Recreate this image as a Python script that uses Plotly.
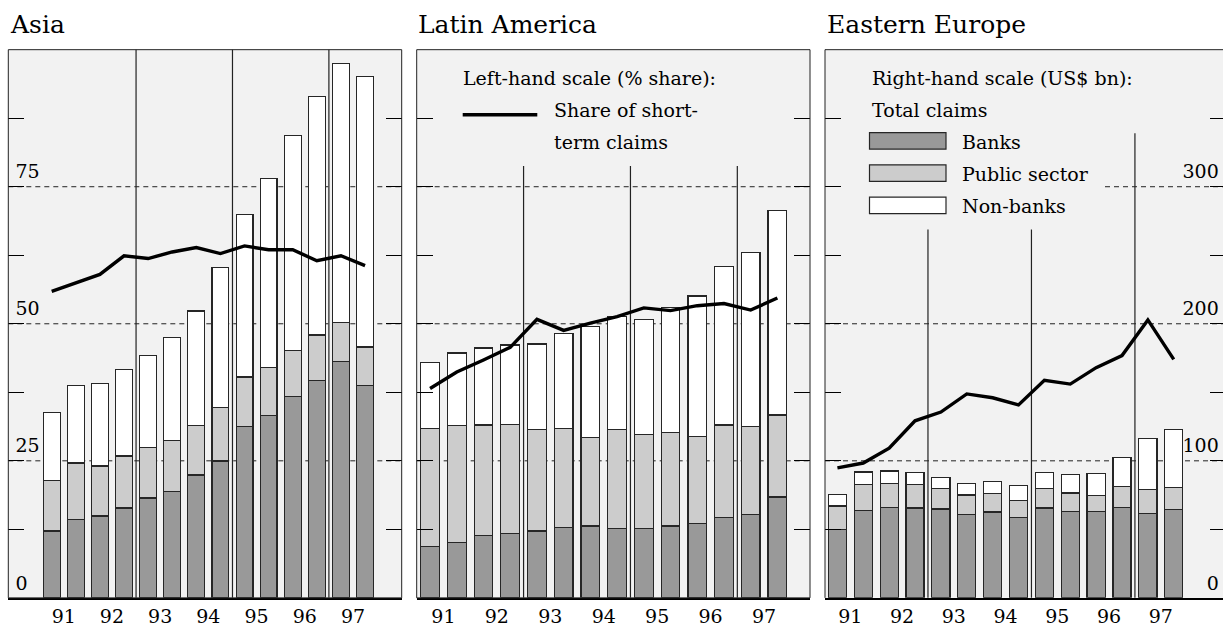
import plotly.graph_objects as go

# ---------------- data ----------------
periods = ["Jun 91", "Dec 91", "Jun 92", "Dec 92", "Jun 93", "Dec 93", "Jun 94",
           "Dec 94", "Jun 95", "Dec 95", "Jun 96", "Dec 96", "Jun 97", "Dec 97"]
year_labels = ["91", "92", "93", "94", "95", "96", "97"]
panel_titles = ["Asia", "Latin America", "Eastern Europe"]
series_names = ["Banks", "Public sector", "Non-banks"]

# US$ bn (right-hand scale)
asia_banks = [48.8, 57.4, 59.8, 65.6, 72.9, 77.7, 89.7, 99.9, 125.0, 133.1, 147.2, 158.8, 172.2, 155.1]
asia_public = [36.6, 41.0, 36.4, 37.9, 36.6, 37.4, 36.0, 38.8, 36.1, 35.1, 33.3, 33.0, 29.0, 28.0]
asia_nonbanks = [49.7, 56.7, 60.1, 63.2, 67.3, 75.0, 83.6, 102.3, 118.7, 137.9, 156.7, 174.3, 188.8, 197.3]
# % share (left-hand scale)
asia_share = [55.9, 57.5, 59.0, 62.4, 61.9, 63.1, 63.9, 62.8, 64.2, 63.5, 63.5, 61.5, 62.4, 60.6]

latam_banks = [37.4, 40.3, 45.4, 47.0, 48.8, 51.2, 52.4, 50.9, 50.4, 52.4, 54.1, 58.9, 61.1, 73.6]
latam_public = [85.9, 85.6, 80.8, 79.4, 73.8, 72.1, 64.8, 72.1, 69.0, 68.2, 63.8, 67.3, 63.8, 59.8]
latam_nonbanks = [48.5, 52.8, 56.1, 58.1, 62.6, 69.5, 80.6, 82.1, 83.7, 91.0, 102.4, 115.8, 126.9, 149.1]
latam_share = [38.2, 41.2, 43.4, 45.7, 50.8, 48.8, 50.1, 51.3, 52.9, 52.4, 53.3, 53.7, 52.5, 54.7]

ee_banks = [49.9, 63.7, 65.8, 65.6, 64.9, 61.1, 62.7, 58.4, 65.6, 63.2, 63.2, 65.8, 61.5, 64.7]
ee_public = [17.2, 19.1, 17.7, 16.9, 14.7, 13.9, 13.3, 12.8, 14.3, 13.3, 11.3, 15.7, 17.7, 15.6]
ee_nonbanks = [8.2, 9.1, 9.1, 8.7, 8.5, 8.2, 8.9, 10.9, 11.5, 13.7, 16.2, 20.8, 36.9, 42.3]
ee_share = [23.7, 24.6, 27.3, 32.3, 33.9, 37.2, 36.5, 35.2, 39.7, 39.0, 42.0, 44.2, 50.7, 43.5]

left_ticks = [0, 25, 50, 75]
left_minor = [12.5, 37.5, 62.5, 87.5]
right_ticks = [0, 100, 200, 300]
right_minor = [50, 150, 250, 350]

# ---------------- style / layout ----------------
# the Eastern Europe panel runs slightly past the right edge of the 1223 px view
W, H = 1226, 627
FONT = "DejaVu Serif"
BG = "#f2f2f2"
COLORS = ["#999999", "#cccccc", "#ffffff"]
EDGE = "#262626"
TICKFONT = dict(size=19, color="black", family=FONT)


def fx(p):
    return p / W


def fy(p):
    return 1 - p / H


Y_DOM = [fy(601.7), fy(50)]
panels = [
    dict(dom=[fx(8.3), fx(401.7)], rng=[-1.8, 14.52],
         data=(asia_banks, asia_public, asia_nonbanks, asia_share),
         left_labels=True, right_labels=False, vtops=[1, 1, 1]),
    dict(dom=[fx(416.7), fx(810)], rng=[-0.5, 14.22],
         data=(latam_banks, latam_public, latam_nonbanks, latam_share),
         left_labels=False, right_labels=False, vtops=[167, 167, 167]),
    dict(dom=[fx(825), 1.0], rng=[-0.48, 15.02],
         data=(ee_banks, ee_public, ee_nonbanks, ee_share),
         left_labels=False, right_labels=True, vtops=[231, 231, 134]),
]

xidx = list(range(len(periods)))
year_pos = [(xidx[2 * k] + xidx[2 * k + 1]) / 2 for k in range(len(year_labels))]

fig = go.Figure()
layout = dict(
    width=W, height=H, margin=dict(l=0, r=0, t=0, b=0),
    paper_bgcolor="white", plot_bgcolor=BG, barmode="stack", showlegend=False,
    font=dict(family=FONT, size=19, color="black"),
)
shapes = []
annotations = []

plot_h = 601.7 - 50


def dom_frac(ypx):
    return (601.7 - ypx) / plot_h


for i, p in enumerate(panels):
    xa = "x" if i == 0 else f"x{i + 1}"
    xkey = "xaxis" if i == 0 else f"xaxis{i + 1}"
    yb_n = 2 * i + 1
    yl_n = 2 * i + 2
    yb = "y" if yb_n == 1 else f"y{yb_n}"
    yl = f"y{yl_n}"
    ybkey = "yaxis" if yb_n == 1 else f"yaxis{yb_n}"
    ylkey = f"yaxis{yl_n}"
    banks, public, nonbanks, share = p["data"]
    for vals, col, name in zip((banks, public, nonbanks), COLORS, series_names):
        fig.add_trace(go.Bar(x=xidx, y=vals, name=name, width=0.7, xaxis=xa, yaxis=yb,
                             marker=dict(color=col, line=dict(color=EDGE, width=1.2))))
    fig.add_trace(go.Scatter(x=xidx, y=share, mode="lines", xaxis=xa, yaxis=yl,
                             line=dict(color="black", width=3.4)))

    layout[xkey] = dict(domain=p["dom"], range=p["rng"], anchor=yb,
                        tickmode="array", tickvals=year_pos, ticktext=year_labels,
                        ticks="", showline=True, linecolor="black", linewidth=2,
                        showgrid=False, zeroline=False, tickfont=TICKFONT)
    layout[ybkey] = dict(domain=Y_DOM, range=[0, 400], anchor=xa, side="right",
                         tickmode="array", tickvals=right_ticks,
                         ticktext=[str(v) for v in right_ticks],
                         ticks="inside", ticklen=16, tickwidth=1.4, tickcolor="black",
                         minor=dict(tickmode="array", tickvals=right_minor, ticks="inside",
                                    ticklen=16, tickwidth=1.4, tickcolor="black", showgrid=False),
                         showgrid=False, zeroline=False, showline=False,
                         showticklabels=p["right_labels"], ticklabelposition="inside",
                         ticklabelshift=-15, ticklabelstandoff=-8, tickfont=TICKFONT)
    layout[ylkey] = dict(range=[0, 100], anchor=xa, side="left", overlaying=yb,
                         tickmode="array", tickvals=left_ticks,
                         ticktext=[str(v) for v in left_ticks],
                         ticks="inside", ticklen=16, tickwidth=1.4, tickcolor="black",
                         minor=dict(tickmode="array", tickvals=left_minor, ticks="inside",
                                    ticklen=16, tickwidth=1.4, tickcolor="black", showgrid=False),
                         showgrid=False, zeroline=False, showline=False,
                         showticklabels=p["left_labels"], ticklabelposition="inside",
                         ticklabelshift=-15, ticklabelstandoff=-8, tickfont=TICKFONT)

    # dashed gridlines (right-hand scale values 100/200/300 = 25/50/75 %)
    for v in right_ticks[1:]:
        x0 = 0
        if i == 2 and v == 300:
            x0 = (1105 - 825) / (W - 825)
        shapes.append(dict(type="line", xref=f"{xa} domain", yref=yb, x0=x0, x1=1, y0=v, y1=v,
                           line=dict(color="#222", width=1, dash="5px,4px"), layer="below"))
    # vertical separators every two years
    for xv, top in zip([3.5, 7.5, 11.5], p["vtops"]):
        y1 = 1 if top == 1 else dom_frac(top)
        shapes.append(dict(type="line", xref=xa, yref=f"{yb} domain", x0=xv, x1=xv, y0=0, y1=y1,
                           line=dict(color="#222", width=1.2), layer="below"))
    # frame
    if i < 2:
        shapes.append(dict(type="rect", xref=f"{xa} domain", yref=f"{yb} domain",
                           x0=0, x1=1, y0=0, y1=1, line=dict(color="#222", width=1),
                           fillcolor="rgba(0,0,0,0)", layer="above"))
    else:
        shapes.append(dict(type="line", xref=f"{xa} domain", yref=f"{yb} domain",
                           x0=0, x1=1, y0=1, y1=1, line=dict(color="#222", width=1), layer="above"))
        shapes.append(dict(type="line", xref=f"{xa} domain", yref=f"{yb} domain",
                           x0=0, x1=0, y0=0, y1=1, line=dict(color="#222", width=1), layer="above"))

# titles
for title, xp in zip(panel_titles, [7.5, 415.5, 824.5]):
    annotations.append(dict(text=title, xref="paper", yref="paper", x=fx(xp), y=fy(24.5),
                            xanchor="left", yanchor="middle", showarrow=False,
                            font=dict(size=25, family=FONT)))

# legend, Latin America panel
annotations.append(dict(text="Left-hand scale (% share):", xref="paper", yref="paper",
                        x=fx(461), y=fy(78), xanchor="left", yanchor="middle", showarrow=False))
shapes.append(dict(type="line", xref="paper", yref="paper", x0=fx(462.7), x1=fx(537.3),
                   y0=fy(115.5), y1=fy(115.5), line=dict(color="black", width=3.6)))
annotations.append(dict(text="Share of short-", xref="paper", yref="paper",
                        x=fx(551.5), y=fy(111), xanchor="left", yanchor="middle", showarrow=False))
annotations.append(dict(text="term claims", xref="paper", yref="paper",
                        x=fx(551.5), y=fy(143), xanchor="left", yanchor="middle", showarrow=False))

# legend, Eastern Europe panel
annotations.append(dict(text="Right-hand scale (US$ bn):", xref="paper", yref="paper",
                        x=fx(869.5), y=fy(78), xanchor="left", yanchor="middle", showarrow=False))
annotations.append(dict(text="Total claims", xref="paper", yref="paper",
                        x=fx(869.5), y=fy(111), xanchor="left", yanchor="middle", showarrow=False))
for k, (name, col) in enumerate(zip(series_names, COLORS)):
    cy = 141.7 + 32.5 * k
    shapes.append(dict(type="rect", xref="paper", yref="paper", x0=fx(869.5), x1=fx(946),
                       y0=fy(cy - 8.3), y1=fy(cy + 8.3), fillcolor=col,
                       line=dict(color=EDGE, width=1.2)))
    annotations.append(dict(text=name, xref="paper", yref="paper", x=fx(959.5), y=fy(cy + 1),
                            xanchor="left", yanchor="middle", showarrow=False))

layout["shapes"] = shapes
layout["annotations"] = annotations
fig.update_layout(**layout)

fig.write_html("out.html", config={"displayModeBar": False},
               post_script="document.body.style.margin='0';document.body.style.overflow='hidden';")
